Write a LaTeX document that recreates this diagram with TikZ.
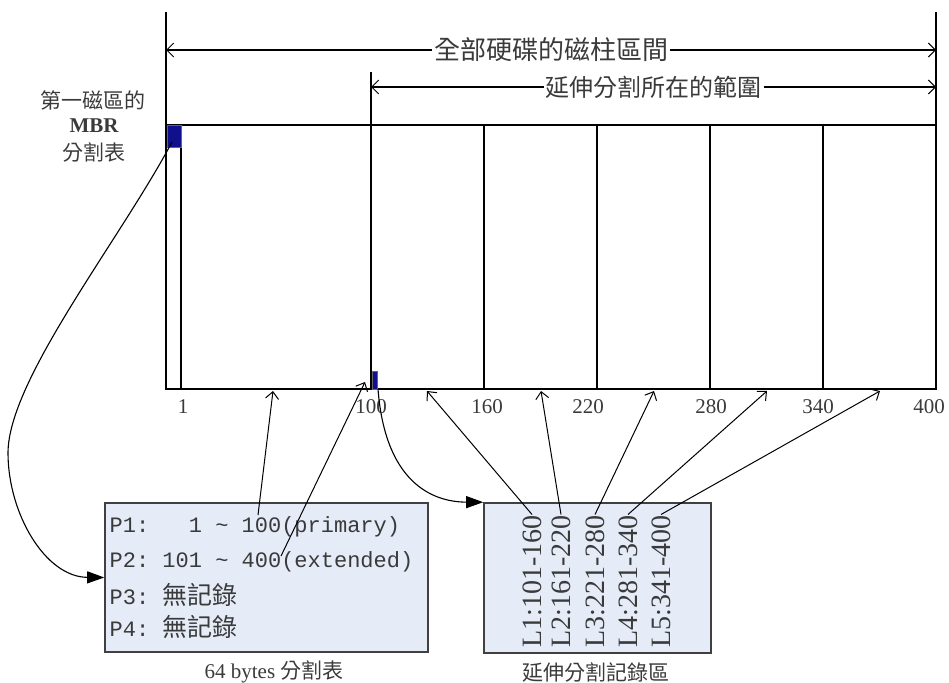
\documentclass[tikz,border=0pt]{standalone}
\usepackage{fontspec}
\setmainfont{Liberation Serif}
\setmonofont{Liberation Mono}
\newfontfamily\cjk{Noto Sans CJK TC}
\usepackage{xcolor}
\usepackage{tikz}
\usetikzlibrary{arrows.meta}
\definecolor{mNavy}{RGB}{16,16,140}
\definecolor{mPale}{HTML}{E5EBF7}
\definecolor{mInk}{HTML}{3A3A3A}

\begin{document}
\begin{tikzpicture}[x=1pt, y=-1pt, line width=1.3pt,
  barb/.style={-{Straight Barb[length=7pt,width=13pt,line width=1pt]}, line width=1pt},
  dimline/.style={{Straight Barb[length=7pt,width=14pt,line width=1pt]}-{Straight Barb[length=7pt,width=14pt,line width=1pt]}, line width=1.2pt},
  filltip/.style={-{Triangle[length=17pt,width=12pt]}, line width=1.1pt},
  cjktext/.style={text=mInk, inner sep=1pt, font=\cjk\fontsize{21}{25}\selectfont},
  ticktext/.style={text=mInk, inner sep=0pt, font=\fontsize{21}{25}\selectfont},
  monotext/.style={text=mInk, inner sep=0pt, anchor=west, font=\ttfamily\frenchspacing\fontsize{22}{26}\selectfont},
  rottext/.style={text=mInk, inner sep=0pt, anchor=west, rotate=90, font=\fontsize{28}{32}\selectfont},
  recbox/.style={draw=black!75, line width=1.6pt, fill=mPale}]
\useasboundingbox (0,0) rectangle (949,682);

% disk cylinders
\draw (166,12) -- (166,389) -- (936,389) -- (936,12);
\draw (166,125) -- (936,125);
\draw (181,125) -- (181,389);
\draw (371,72) -- (371,389);
\foreach \x in {484,597,710,823} \draw (\x,125) -- (\x,389);
\filldraw[fill=mNavy, draw=black!60, line width=0.6pt] (167,125) rectangle (181,147);
\filldraw[fill=mNavy, draw=black!60, line width=0.6pt] (372,371) rectangle (377,389);

% ranges
\coordinate (allL) at (166,50);
\coordinate (allR) at (936,50);
\draw[dimline] (allL) -- node[cjktext, fill=white, inner sep=2pt, font=\cjk\fontsize{26}{30}\selectfont] (alltxt) {全部硬碟的磁柱區間} (allR);
\coordinate (extL) at (371,87);
\coordinate (extR) at (936,87);
\draw[dimline] (extL) -- node[cjktext, fill=white, inner sep=2pt, font=\cjk\fontsize{24}{28}\selectfont] (exttxt) {延伸分割所在的範圍} (extR);

\node[cjktext] (mbr1) at (93,100) {第一磁區的};
\node[ticktext, font=\fontsize{21}{25}\selectfont\bfseries] (mbr2) at (94,126) {MBR};
\node[cjktext] (mbr3) at (94,152) {分割表};

\foreach \x/\t in {183/1, 371/100, 487/160, 588/220, 711/280, 818/340, 929/400}
  \node[ticktext] (t\t) at (\x,407) {\t};

% partition table in MBR
\node[recbox, minimum width=323, minimum height=149] (ptable) at (266.5,577.5) {};
\node[monotext] (p1) at (109,527) {P1:\ \ \ 1 \textasciitilde{} 100(primary)};
\node[monotext] (p2) at (109,562) {P2:\ 101 \textasciitilde{} 400(extended)};
\node[monotext] (p3) at (109,595) {P3:\ {\cjk\fontsize{25}{30}\selectfont 無記錄}};
\node[monotext] (p4) at (109,627) {P4:\ {\cjk\fontsize{25}{30}\selectfont 無記錄}};
\node[ticktext] (cap1) at (274,672) {64 bytes {\cjk 分割表}};

% extended partition records
\node[recbox, minimum width=227, minimum height=150] (ltable) at (597.5,578) {};
\foreach \i/\t/\x in {1/101-160/532, 2/161-220/561, 3/221-280/595, 4/281-340/628, 5/341-400/661}
  \node[rottext] (l\i) at (\x,648) {L\i:\t};
\node[cjktext] (cap2) at (596,672) {延伸分割記錄區};

% pointers
\coordinate (mbrsrc) at (172,142);
\draw[filltip] (mbrsrc) .. controls (120,240) and (8,380) .. (8,453)
  .. controls (8,513) and (45,577) .. (ptable.west);
\coordinate (extsrc) at (378,389);
\draw[filltip] (extsrc) .. controls (385,480) and (430,502) .. (ltable.north west);
\coordinate (p1src) at (258,515);
\coordinate (p2src) at (281,556);
\coordinate (part1) at (273,391);
\coordinate (part2) at (365,382);
\draw[barb] (p1src) -- (part1);
\draw[barb] (p2src) -- (part2);
\foreach \i/\x in {1/427, 2/541, 3/654, 4/767, 5/880} {
  \coordinate (g\i) at (\x,391);
  \draw[barb] (l\i.east) -- (g\i);
}
\end{tikzpicture}
\end{document}
